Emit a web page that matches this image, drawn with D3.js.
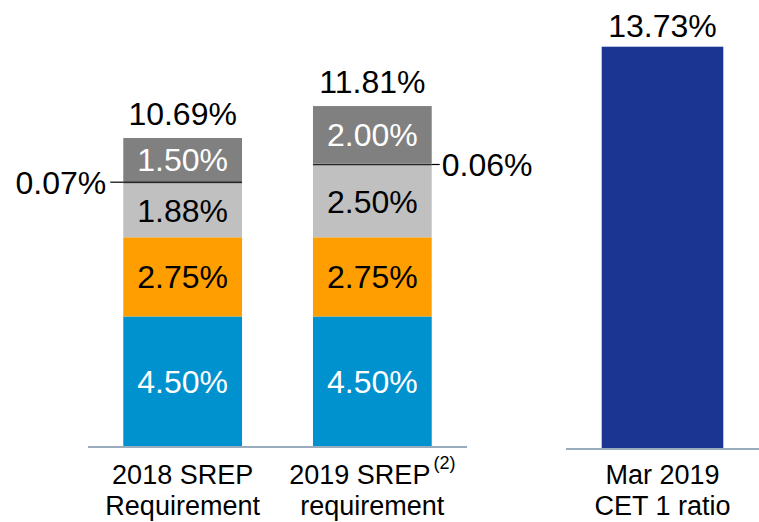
<!DOCTYPE html>
<html>
<head>
<meta charset="utf-8">
<script src="https://cdn.jsdelivr.net/npm/d3@7"></script>
<style>
  body { margin: 0; background: #fff; }
  text { font-family: "Liberation Sans", Arial, sans-serif; }
</style>
</head>
<body>
<div id="chart"></div>
<script>
const width = 759, height = 522;

// data
const categories = ["2018 SREP|Requirement", "2019 SREP|requirement"];
const pillar1 = [4.50, 4.50];
const pillar2r = [2.75, 2.75];
const ccb = [1.88, 2.50];
const osii = [0.07, 0.06];
const gsii = [1.50, 2.00];
const totals = [10.69, 11.81];
const cetCategories = ["Mar 2019|CET 1 ratio"];
const cetValues = [13.73];

const series = [
  {values: pillar1, fill: "#0091cf", text: "#fff"},
  {values: pillar2r, fill: "#ff9e00", text: "#000"},
  {values: ccb, fill: "#c0c0c0", text: "#000"},
  {values: osii, fill: "#262626", text: null},
  {values: gsii, fill: "#808080", text: "#fff"}
];

const svg = d3.select("#chart")
  .append("svg")
    .attr("width", width)
    .attr("height", height);

// left chart: stacked requirements
const x = d3.scaleBand()
  .domain(categories)
  .range([88, 467])
  .paddingInner(0.374)
  .paddingOuter(0.186);

const y = d3.scaleLinear()
  .domain([0, 10.69])
  .range([446, 138.3]);

// right chart: actual ratio
const x2 = d3.scaleBand()
  .domain(cetCategories)
  .range([566, 759])
  .paddingInner(0.37)
  .paddingOuter(0.182);

const y2 = d3.scaleLinear()
  .domain([0, 13.73])
  .range([448, 46.7]);

// build stacked rows
const rows = [];
categories.forEach((c, i) => {
  let base = 0;
  series.forEach(s => {
    rows.push({cat: c, i: i, y0: base, y1: base + s.values[i], v: s.values[i], s: s});
    base += s.values[i];
  });
});

svg.append("g")
  .selectAll("rect")
  .data(rows)
  .enter()
  .append("rect")
    .attr("x", d => x(d.cat))
    .attr("width", x.bandwidth())
    .attr("y", d => y(d.y1))
    .attr("height", d => y(d.y0) - y(d.y1))
    .style("fill", d => d.s.fill);

// labels inside segments
svg.append("g")
  .selectAll("text")
  .data(rows.filter(d => d.s.text))
  .enter()
  .append("text")
    .attr("x", d => x(d.cat) + x.bandwidth() / 2)
    .attr("y", d => (y(d.y0) + y(d.y1)) / 2)
    .attr("dy", "0.36em")
    .attr("text-anchor", "middle")
    .style("font-size", "32px")
    .style("fill", d => d.s.text)
    .text(d => d.v.toFixed(2) + "%");

// small segments get a leader line + outside label
const small = rows.filter(d => !d.s.text);
small.forEach(d => {
  const yc = (y(d.y0) + y(d.y1)) / 2;
  const left = d.i === 0;
  const edge = left ? x(d.cat) : x(d.cat) + x.bandwidth();
  svg.append("line")
    .attr("x1", edge)
    .attr("x2", left ? edge - 13 : edge + 8)
    .attr("y1", yc).attr("y2", yc)
    .style("stroke", "#000")
    .style("stroke-width", 1.2);
  svg.append("text")
    .attr("x", left ? edge - 17 : edge + 10)
    .attr("y", yc)
    .attr("dy", "0.36em")
    .attr("text-anchor", left ? "end" : "start")
    .style("font-size", "32px")
    .text(d.v.toFixed(2) + "%");
});

// totals
svg.append("g")
  .selectAll("text")
  .data(categories)
  .enter()
  .append("text")
    .attr("x", d => x(d) + x.bandwidth() / 2)
    .attr("y", (d, i) => y(totals[i]) - 13)
    .attr("text-anchor", "middle")
    .style("font-size", "32px")
    .text((d, i) => totals[i].toFixed(2) + "%");

// CET1 bar
svg.append("g")
  .selectAll("rect")
  .data(cetCategories)
  .enter()
  .append("rect")
    .attr("x", d => x2(d))
    .attr("width", x2.bandwidth())
    .attr("y", (d, i) => y2(cetValues[i]))
    .attr("height", (d, i) => y2(0) - y2(cetValues[i]))
    .style("fill", "#1b3592");

svg.append("g")
  .selectAll("text")
  .data(cetCategories)
  .enter()
  .append("text")
    .attr("x", d => x2(d) + x2.bandwidth() / 2)
    .attr("y", (d, i) => y2(cetValues[i]) - 9.5)
    .attr("text-anchor", "middle")
    .style("font-size", "32px")
    .text((d, i) => cetValues[i].toFixed(2) + "%");

// baselines
svg.append("line")
  .attr("x1", x.range()[0]).attr("x2", x.range()[1])
  .attr("y1", y(0) + 1).attr("y2", y(0) + 1)
  .style("stroke", "#9aabbd").style("stroke-width", 2);

svg.append("line")
  .attr("x1", x2.range()[0]).attr("x2", x2.range()[1])
  .attr("y1", y2(0) + 1).attr("y2", y2(0) + 1)
  .style("stroke", "#9aabbd").style("stroke-width", 2);

// category labels
function catLabel(scale, c, sup) {
  const parts = c.split("|");
  const cx = scale(c) + scale.bandwidth() / 2;
  const g = svg.append("g").style("font-size", "27px");
  const t = g.append("text")
    .attr("x", cx)
    .attr("y", 484)
    .attr("text-anchor", "middle");
  t.append("tspan").text(parts[0]);
  if (sup) {
    t.append("tspan").attr("dy", -15).attr("dx", 3).style("font-size", "18px").text(sup);
  }
  g.append("text")
    .attr("x", cx)
    .attr("y", 515)
    .attr("text-anchor", "middle")
    .text(parts[1]);
}
catLabel(x, categories[0]);
catLabel(x, categories[1], "(2)");
catLabel(x2, cetCategories[0]);
</script>
</body>
</html>
